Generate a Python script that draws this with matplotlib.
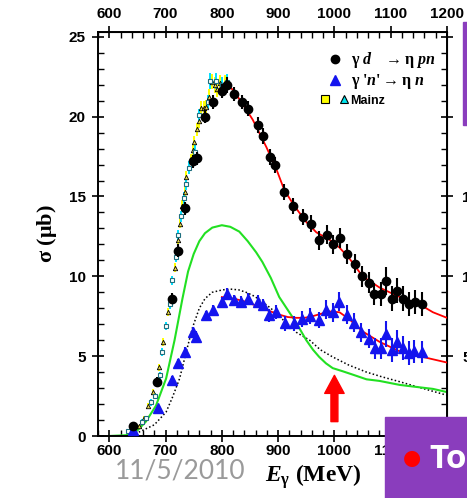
import matplotlib
matplotlib.use('Agg')
import matplotlib.pyplot as plt
from matplotlib.lines import Line2D
from matplotlib.legend_handler import HandlerTuple
from matplotlib.patches import Rectangle
from matplotlib.ticker import MultipleLocator

plt.rcParams.update({'mathtext.fontset': 'custom',
                     'mathtext.rm': 'Liberation Serif:bold',
                     'mathtext.it': 'Liberation Serif:italic:bold',
                     'mathtext.bf': 'Liberation Serif:bold'})

# gamma d -> eta p n (black circles)
E_d = [642, 684, 711, 723, 734, 749, 755, 770, 785, 800, 810, 822, 836, 846, 864, 874, 886, 895,
       911, 927, 944, 958, 972, 986, 998, 1010, 1023, 1037, 1049, 1061, 1071, 1082, 1092, 1102,
       1111, 1121, 1132, 1143, 1155]
sig_d = [0.65, 3.4, 8.6, 11.6, 14.25, 17.2, 17.4, 20.0, 20.9, 21.6, 22.0, 21.4, 20.9, 20.5, 19.5,
         18.8, 17.5, 17.0, 15.3, 14.4, 13.7, 13.3, 12.25, 12.6, 12.0, 12.4, 11.4, 10.8, 10.0, 9.6,
         8.9, 8.9, 9.7, 8.6, 9.1, 8.6, 8.25, 8.4, 8.25]
err_d = [0.2, 0.3, 0.35, 0.4, 0.4, 0.4, 0.4, 0.4, 0.45, 0.45, 0.5, 0.45, 0.45, 0.45, 0.5, 0.5, 0.5,
         0.5, 0.5, 0.5, 0.5, 0.55, 0.6, 0.6, 0.6, 0.6, 0.6, 0.6, 0.65, 0.65, 0.7, 0.75, 0.9, 0.8,
         0.8, 0.8, 0.75, 0.75, 0.75]

# gamma 'n' -> eta n (blue triangles)
E_n = [643, 686, 711, 723, 735, 749, 754, 771, 784, 800, 810, 822, 834, 847, 865, 874, 884, 896,
       912, 928, 943, 957, 972, 985, 998, 1009, 1022, 1034, 1048, 1061, 1072, 1082, 1092, 1102,
       1112, 1122, 1132, 1142, 1155]
sig_n = [0.35, 1.75, 3.5, 4.55, 5.25, 6.5, 6.2, 7.55, 7.9, 8.4, 8.9, 8.5, 8.4, 8.6, 8.4, 8.2, 7.55,
         7.75, 7.05, 7.05, 7.3, 7.5, 7.25, 7.9, 7.75, 8.4, 7.6, 7.1, 6.5, 6.1, 5.5, 5.5, 6.4, 5.4,
         5.9, 5.5, 5.2, 5.3, 5.25]
err_n = [0.1, 0.2, 0.25, 0.3, 0.3, 0.35, 0.35, 0.3, 0.3, 0.3, 0.35, 0.35, 0.35, 0.35, 0.4, 0.4,
         0.4, 0.45, 0.45, 0.45, 0.5, 0.5, 0.5, 0.6, 0.6, 0.6, 0.6, 0.6, 0.6, 0.6, 0.65, 0.65, 0.8,
         0.75, 0.75, 0.75, 0.75, 0.7, 0.7]

# Mainz data
E_msq = [634, 643, 658, 666, 675, 681, 690, 693, 701, 708, 711, 719, 723, 728, 732, 736, 741, 753,
         760, 775, 779, 790, 801, 810]
sig_msq = [0.3, 0.6, 0.9, 1.1, 2.1, 2.5, 3.8, 5.25, 6.9, 8.25, 9.75, 11.2, 12.6, 13.75, 14.9, 15.75,
           16.8, 17.8, 20.1, 20.9, 22.25, 22.25, 22.0, 22.2]
err_msq = [0.1, 0.1, 0.15, 0.15, 0.2, 0.2, 0.2, 0.25, 0.25, 0.3, 0.3, 0.3, 0.3, 0.35, 0.35, 0.35,
           0.4, 0.4, 0.4, 0.45, 0.5, 0.5, 0.5, 0.5]
E_mtr = [640, 653, 661, 668, 677, 688, 696, 704, 716, 722, 726, 730, 734, 737, 745, 748, 751, 755,
         759, 763, 769, 772, 778, 783, 787, 792, 796, 805]
sig_mtr = [0.4, 0.6, 1.1, 1.9, 2.75, 4.3, 5.9, 7.75, 10.55, 12.25, 13.3, 14.4, 15.3, 16.25, 17.3,
           17.9, 18.4, 19.2, 19.7, 20.55, 20.55, 20.6, 21.25, 22.2, 22.0, 21.7, 22.1, 22.1]
err_mtr = [0.1, 0.1, 0.15, 0.15, 0.2, 0.2, 0.25, 0.25, 0.3, 0.3, 0.3, 0.35, 0.35, 0.35, 0.35, 0.4,
           0.4, 0.4, 0.4, 0.4, 0.45, 0.45, 0.45, 0.5, 0.5, 0.5, 0.5, 0.5]

# fits and model curves
E_fit_d = [805, 819, 837, 855, 879, 897, 911, 929, 950, 968, 991, 1009, 1027, 1050, 1080, 1116,
           1151, 1175, 1200]
fit_d = [22.1, 21.7, 20.8, 19.8, 18.1, 16.7, 15.4, 14.4, 13.4, 12.75, 12.3, 11.8, 11.1, 10.0, 9.3,
         8.7, 8.25, 7.75, 7.4]
E_fit_n = [800, 822, 843, 862, 879, 902, 917, 932, 947, 961, 976, 991, 1009, 1027, 1050, 1080,
           1116, 1151, 1200]
fit_n = [8.7, 8.6, 8.4, 8.15, 7.9, 7.6, 7.45, 7.4, 7.4, 7.5, 7.65, 7.8, 7.75, 7.3, 6.55, 5.9, 5.3,
         5.0, 4.6]
E_green = [600, 630, 650, 665, 683, 701, 716, 730, 740, 750, 760, 770, 783, 800, 815, 831, 846,
           861, 872, 887, 902, 917, 932, 950, 962, 973, 985, 997, 1015, 1032, 1057, 1080, 1116,
           1139, 1175, 1200]
green = [0.0, 0.05, 0.35, 0.9, 1.9, 3.6, 6.0, 8.6, 10.3, 11.4, 12.2, 12.7, 13.05, 13.2, 13.1, 12.8,
         12.2, 11.5, 10.9, 9.9, 8.7, 7.9, 7.1, 6.0, 5.4, 4.95, 4.55, 4.25, 4.05, 3.85, 3.55, 3.45,
         3.2, 3.1, 2.95, 2.75]
E_dot = [640, 653, 680, 701, 712, 725, 737, 748, 760, 770, 783, 801, 815, 830, 843, 858, 872, 887,
         902, 917, 932, 956, 975, 997, 1025, 1057, 1085, 1116, 1145, 1170, 1200]
dotted = [0.05, 0.25, 0.7, 1.5, 2.4, 3.6, 5.3, 6.8, 8.0, 8.6, 9.0, 9.15, 9.2, 9.15, 9.0, 8.75, 8.4,
          8.0, 7.5, 7.0, 6.5, 6.0, 5.4, 4.95, 4.45, 4.0, 3.7, 3.4, 3.1, 2.85, 2.55]

fig = plt.figure(figsize=(4.67, 4.98), dpi=100)
ax = fig.add_axes([98/467, 62/498, 349/467, 404/498])
ax.set_xlim(580, 1200); ax.set_ylim(0, 25.3)

ax.plot(E_dot, dotted, color='black', lw=1.1, ls=(0, (1, 1.5)), zorder=2)
ax.plot(E_green, green, color='#22e022', lw=1.5, zorder=2)
ax.plot(E_fit_d, fit_d, color='red', lw=1.3, zorder=3)
ax.plot(E_fit_n, fit_n, color='red', lw=1.3, zorder=3)

ax.errorbar(E_mtr, sig_mtr, yerr=err_mtr, fmt='^', ms=3.2, mfc='#e8d84a', mec='black', mew=0.6,
            ecolor='#ffff00', elinewidth=1.4, capsize=0, zorder=4)
ax.errorbar(E_msq, sig_msq, yerr=err_msq, fmt='s', ms=3.0, mfc='white', mec='#1f6f7f', mew=0.8,
            ecolor='#00e0ff', elinewidth=1.4, capsize=0, zorder=4)
ax.errorbar(E_n, sig_n, yerr=err_n, fmt='^', ms=6.5, color='#1414ee', elinewidth=1.5, capsize=0, zorder=5)
ax.errorbar(E_d, sig_d, yerr=err_d, fmt='o', ms=6, color='black', elinewidth=1.5, capsize=0, zorder=6)

ax.annotate('', xy=(1000, 3.8), xytext=(1000, 0.9),
            arrowprops=dict(fc='red', ec='red', width=5, headwidth=14, headlength=13, shrink=0))

# axes styling
for s in ax.spines.values():
    s.set_linewidth(1.4)
ax.xaxis.set_major_locator(MultipleLocator(100)); ax.xaxis.set_minor_locator(MultipleLocator(20))
ax.yaxis.set_major_locator(MultipleLocator(5)); ax.yaxis.set_minor_locator(MultipleLocator(1))
ax.tick_params(which='major', direction='inout', length=8, width=1.2)
ax.tick_params(which='minor', direction='in', length=4, width=1.0)
ax.tick_params(axis='x', pad=2)
ax.tick_params(axis='y', pad=5)
tick_font = dict(family='Liberation Sans', weight='bold', size=11)
for lab in ax.get_xticklabels() + ax.get_yticklabels():
    lab.set_fontproperties(tick_font)

top = ax.secondary_xaxis('top')
top.xaxis.set_major_locator(MultipleLocator(100)); top.xaxis.set_minor_locator(MultipleLocator(20))
top.tick_params(which='major', direction='inout', length=8, width=1.2, pad=4)
top.tick_params(which='minor', direction='in', length=4, width=1.0)
right = ax.secondary_yaxis('right')
right.yaxis.set_major_locator(MultipleLocator(5)); right.yaxis.set_minor_locator(MultipleLocator(1))
right.tick_params(which='major', direction='inout', length=8, width=1.2, pad=7)
right.tick_params(which='minor', direction='in', length=4, width=1.0)
for a in (top.xaxis, right.yaxis):
    for lab in a.get_ticklabels():
        lab.set_fontproperties(tick_font)

ax.set_xlabel(r'$E_{\mathrm{\gamma}}$ (MeV)', family='Liberation Serif', weight='bold', size=17)
ax.xaxis.set_label_coords(0.616, -0.064)
ax.set_ylabel(r'$\mathrm{\sigma}$ ($\mathrm{\mu}$b)', family='Liberation Serif', weight='bold', size=16, labelpad=7)

# legend
h_d = Line2D([], [], ls='none', marker='o', ms=6, color='black')
h_n = Line2D([], [], ls='none', marker='^', ms=6.5, color='#1414ee')
h_sq = Line2D([], [], ls='none', marker='s', ms=6, mfc='#ffff00', mec='black', mew=0.8)
h_tr = Line2D([], [], ls='none', marker='^', ms=6, mfc='#00e5ee', mec='black', mew=0.8)
labels = [r'$\mathrm{\gamma}\ d\quad\rightarrow \mathrm{\eta}\ pn$',
          r"$\mathrm{\gamma}$ '$n$'$\rightarrow \mathrm{\eta}\ n$",
          'Mainz']
leg = ax.legend([h_d, h_n, (h_sq, h_tr)], labels, handler_map={tuple: HandlerTuple(ndivide=None, pad=0.65)},
                loc='upper left', bbox_to_anchor=(0.639, 0.955), frameon=False, handlelength=1.7,
                handletextpad=0.15, labelspacing=0.12, borderaxespad=0, borderpad=0,
                prop=dict(family='Liberation Serif', weight='bold', size=11.5))
leg.get_texts()[2].set_fontproperties(dict(family='Liberation Sans', weight='bold', size=9))

# slide decorations
purple = '#8a3dbd'
fig.add_artist(Rectangle((463/467, 1 - 125/498), 4/467, 103/498, transform=fig.transFigure,
                         color=purple, zorder=10))
fig.add_artist(Rectangle((385/467, 0), 82/467, 81/498, transform=fig.transFigure,
                         color=purple, zorder=10))
fig.text(412/467, 1 - 458/498, '\u25cf', color='red', fontsize=15, ha='center', va='center', zorder=11)
fig.text(429/467, 1 - 459/498, 'Total', color='white', fontsize=24, weight='bold', family='Open Sans',
         ha='left', va='center', zorder=11)
fig.text(115/467, 1 - 471/498, '11/5/2010', color='#9a9a9a', fontsize=19, family='Lato',
         ha='left', va='center')

fig.savefig('out.png', dpi=100)
